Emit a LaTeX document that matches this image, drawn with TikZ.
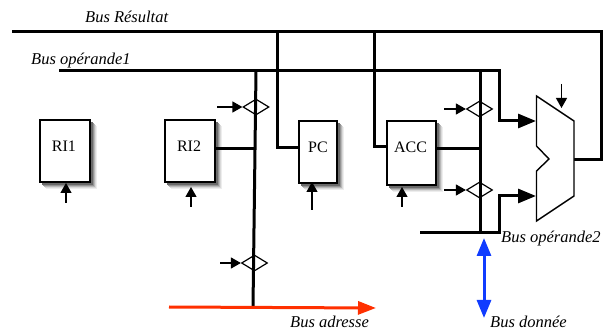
\documentclass[tikz,border=0pt]{standalone}
\usepackage{fontspec}
\setmainfont{Liberation Serif}
\usetikzlibrary{arrows.meta,shapes.geometric,backgrounds}
\definecolor{busred}{RGB}{255,48,0}
\definecolor{busblue}{RGB}{16,60,255}
\tikzset{
  regbox/.style={draw=black,line width=1.3pt,fill=white,inner sep=0pt},
  regname/.style={font=\fontsize{16}{18}\selectfont},
  buslabel/.style={font=\fontsize{16.5}{18}\itshape\selectfont,inner sep=0pt},
  bus/.style={line width=3pt,line cap=butt,line join=miter},
  ctrl/.style={line width=1.3pt,-{Triangle[length=10pt,width=11pt]}},
  busarrow/.style={bus,-{Triangle[length=18pt,width=14pt]}},
  gate/.style={draw=black,line width=1.2pt,diamond,aspect=1.6,minimum width=26pt,minimum height=16pt,inner sep=0pt},
}
\begin{document}
\begin{tikzpicture}[x=1pt,y=-1pt]
\useasboundingbox (0,0) rectangle (606,334);

% registers
\node[regbox,minimum width=50pt,minimum height=62pt] (ri1) at (65,151) {};
\node[regbox,minimum width=50pt,minimum height=62pt] (ri2) at (190,151) {};
\node[regbox,minimum width=38pt,minimum height=62pt] (pc) at (318,152) {};
\node[regbox,minimum width=49pt,minimum height=64pt] (acc) at (411.5,153) {};
\node[regname] (ri1t) at (64,146) {RI1};
\node[regname] (ri2t) at (189,146) {RI2};
\node[regname] (pct) at (318,147) {PC};
\node[regname] (acct) at (410.5,147) {ACC};

% soft shadows behind the registers
\begin{scope}[on background layer]
  \foreach \reg in {ri1,ri2,pc,acc}{
    \foreach \off/\shade in {6.5/7,5.5/15,4.5/28,3.5/42,2.5/58}{
      \fill[black!\shade] ([xshift=\off pt,yshift=-\off pt]\reg.south west) rectangle ([xshift=\off pt,yshift=-\off pt]\reg.north east);
    }
  }
\end{scope}

% multiplexer (UAL)
\coordinate (m1) at (536.5,96);
\coordinate (m2) at (574,121);
\coordinate (m3) at (574,196);
\coordinate (m4) at (536.5,221);
\coordinate (m5) at (536.5,171);
\coordinate (m6) at (549,159);
\coordinate (m7) at (536.5,146);
\coordinate (mo) at (574,160);
\coordinate (min1) at (536,121);
\coordinate (min2) at (536,196);

% bus points
\coordinate (rl) at (12,32);
\coordinate (rtr) at (601,32);
\coordinate (rbr) at (601,160);
\coordinate (rt1) at (277,32);
\coordinate (rb1) at (277,148);
\coordinate (rt2) at (374,32);
\coordinate (rb2) at (374,147);
\coordinate (ol) at (59,71);
\coordinate (ot) at (499,71);
\coordinate (ob) at (499,121);
\coordinate (oa) at (256,71);
\coordinate (ob2) at (480,71);
\coordinate (ab) at (253,307);
\coordinate (jb) at (480,233);
\coordinate (o2l) at (420,233);
\coordinate (o2c) at (499,233);
\coordinate (o2t) at (499,196);
\coordinate (j1) at (255.5,149);
\coordinate (j2) at (480,149);

% buses
\draw[bus] (rl) -- (rtr) -- (rbr) -- (mo);
\draw[bus] (rt1) -- (rb1) -- (pc.west |- rb1);
\draw[bus] (rt2) -- (rb2) -- (acc.west |- rb2);
\draw[busarrow] (ol) -- (ot) -- (ob) -- (min1);
\draw[bus] (oa) -- (ab);
\draw[bus] (ob2) -- (jb);
\draw[bus] (ri2.east |- j1) -- (j1);
\draw[bus] (acc.east |- j2) -- (j2);
\draw[busarrow] (o2l) -- (o2c) -- (o2t) -- (min2);

% gates
\node[gate] (g1) at (256,107) {};
\node[gate] (g2) at (479.5,109) {};
\node[gate] (g3) at (479.5,190) {};
\node[gate] (g4) at (254.5,263) {};

% control signals
\coordinate (c1) at (217,107);
\coordinate (c2) at (444,109);
\coordinate (c3) at (444,190);
\coordinate (c4) at (220,263);
\coordinate (cri1) at (66,203);
\coordinate (cri1e) at (66,183);
\coordinate (cri2) at (191,207);
\coordinate (cri2e) at (191,187);
\coordinate (cpc) at (312,210);
\coordinate (cpce) at (312,182);
\coordinate (cacc) at (402,207);
\coordinate (cacce) at (402,187);
\coordinate (cm) at (561.5,84);
\coordinate (cme) at (561.5,108);
\draw[ctrl] (c1) -- (g1.west);
\draw[ctrl] (c2) -- (g2.west);
\draw[ctrl] (c3) -- (g3.west);
\draw[ctrl] (c4) -- (g4.west);
\draw[ctrl] (cri1) -- (cri1e);
\draw[ctrl] (cri2) -- (cri2e);
\draw[ctrl] (cpc) -- (cpce);
\draw[ctrl] (cacc) -- (cacce);
\draw[ctrl] (cm) -- (cme);

% ALU outline
\draw[line width=1.4pt,line join=miter,fill=white] (m1) -- (m2) -- (m3) -- (m4) -- (m5) -- (m6) -- (m7) -- cycle;

% address and data buses
\coordinate (al) at (169,307);
\coordinate (ar) at (376,308);
\coordinate (dt) at (484,238);
\coordinate (db) at (484,318);
\draw[line width=3pt,busred,-{Triangle[length=18pt,width=13pt]}] (al) -- (ar);
\draw[line width=3pt,busblue,{Triangle[length=18pt,width=14pt]}-{Triangle[length=18pt,width=14pt]}] (dt) -- (db);

% labels
\node[buslabel,anchor=base west] (lr) at (85,23) {Bus Résultat};
\node[buslabel,anchor=base west] (lo1) at (31,65) {Bus opérande1};
\node[buslabel,anchor=base west] (lo2) at (501,243) {Bus opérande2};
\node[buslabel,anchor=base west] (la) at (290,327) {Bus adresse};
\node[buslabel,anchor=base west] (ld) at (490,327) {Bus donnée};
\end{tikzpicture}
\end{document}
